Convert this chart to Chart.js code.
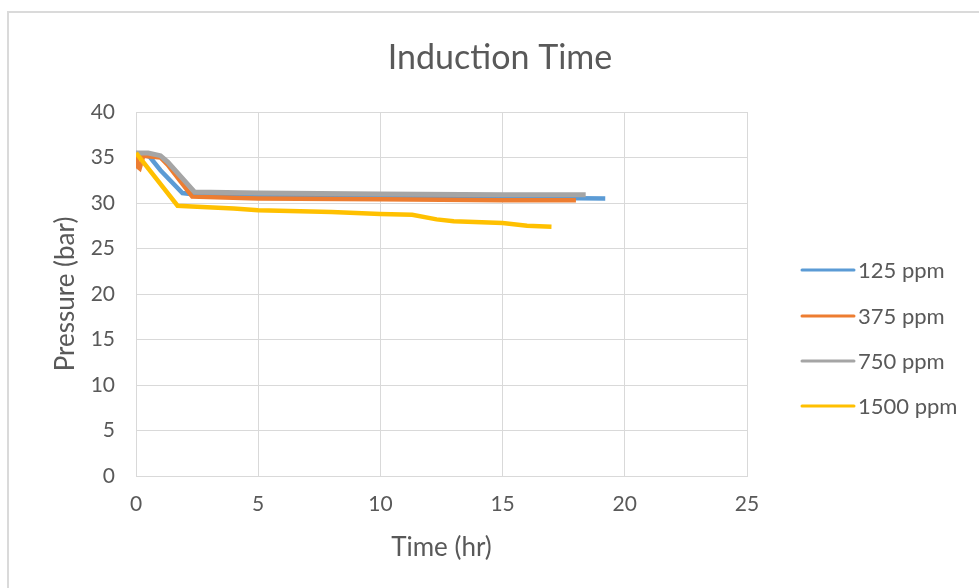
<!DOCTYPE html>
<html>
<head>
<meta charset="utf-8">
<script src="https://cdn.jsdelivr.net/npm/chart.js@4/dist/chart.umd.min.js"></script>
<style>
  html, body { margin: 0; padding: 0; background: #fff; overflow: hidden; }
  #frame { position: absolute; left: 7px; top: 11px; width: 1000px; height: 600px; border: 2px solid #dadada; box-sizing: border-box; }
  #chart { position: absolute; left: 0; top: 0; }
</style>
</head>
<body>
<div id="frame"></div>
<canvas id="chart" width="979" height="588"></canvas>
<script>
'use strict';

// series labels and colours
const SERIES = ['125 ppm', '375 ppm', '750 ppm', '1500 ppm'];
const COLORS = ['#5b9bd5', '#ed7d31', '#a5a5a5', '#ffc000'];

// time (hr) / pressure (bar)
const t125 = [0, 0.55, 1.0, 1.9, 2.5, 5, 10, 15, 19.2];
const p125 = [35.5, 35.1, 33.6, 31.1, 30.9, 30.8, 30.7, 30.6, 30.5];

const t375 = [0, 0.06, 0.15, 0.3, 1.0, 1.3, 2.3, 5, 10, 15, 18.0];
const p375 = [35.5, 34.0, 33.8, 35.2, 35.0, 34.2, 30.7, 30.5, 30.4, 30.3, 30.3];

const t750 = [0, 0.5, 1.0, 1.3, 2.4, 5, 10, 15, 18.4];
const p750 = [35.5, 35.5, 35.2, 34.5, 31.2, 31.1, 31.0, 30.9, 30.9];

const t1500 = [0, 1.7, 2.5, 4, 5, 8, 10, 11.3, 12.3, 13, 15, 16, 17.0];
const p1500 = [35.5, 29.7, 29.6, 29.4, 29.2, 29.0, 28.8, 28.7, 28.2, 28.0, 27.8, 27.5, 27.4];

const X_TICKS = [0, 5, 10, 15, 20, 25];
const Y_TICKS = [0, 5, 10, 15, 20, 25, 30, 35, 40];

const FONT = 'Lato, "Open Sans", sans-serif';
const TXT = '#595959';
const GRID = '#d9d9d9';

const pts = (xs, ys) => xs.map((x, i) => ({ x, y: ys[i] }));
const allData = [pts(t125, p125), pts(t375, p375), pts(t750, p750), pts(t1500, p1500)];

// title + legend drawn at Excel-like spots
const decor = {
  id: 'decor',
  afterDraw(chart) {
    const ctx = chart.ctx;
    ctx.save();
    ctx.fillStyle = TXT;
    ctx.font = `34px ${FONT}`;
    ctx.textAlign = 'center';
    ctx.textBaseline = 'middle';
    ctx.fillText('Induction Time', 500, 58);

    ctx.font = `22px ${FONT}`;
    ctx.textAlign = 'left';
    const rows = [270, 316, 361, 406];
    SERIES.forEach((s, i) => {
      ctx.strokeStyle = COLORS[i];
      ctx.lineWidth = 3;
      ctx.lineCap = 'round';
      ctx.beginPath();
      ctx.moveTo(802, rows[i]);
      ctx.lineTo(854, rows[i]);
      ctx.stroke();
      ctx.fillText(s, 858, rows[i] + 1);
    });
    ctx.restore();
  }
};

new Chart(document.getElementById('chart'), {
  type: 'line',
  data: {
    datasets: SERIES.map((s, i) => ({
      label: s,
      data: allData[i],
      borderColor: COLORS[i],
      backgroundColor: COLORS[i],
      borderWidth: i === 2 ? 5 : 4.5,
      pointRadius: 0,
      tension: 0,
      order: 4 - i
    }))
  },
  options: {
    responsive: false,
    animation: false,
    layout: { padding: { left: 0, top: 112, right: 232, bottom: 0 } },
    plugins: { legend: { display: false }, title: { display: false }, tooltip: { enabled: false } },
    scales: {
      x: {
        type: 'linear', min: 0, max: 25,
        afterBuildTicks: (s) => { s.ticks = X_TICKS.map((v) => ({ value: v })); },
        afterFit: (s) => { s.height = 112; },
        grid: { color: GRID, drawTicks: false },
        border: { color: GRID },
        ticks: { color: TXT, font: { family: FONT, size: 21 }, padding: 16, maxRotation: 0 },
        title: { display: true, text: 'Time (hr)', color: TXT, font: { family: FONT, size: 26 }, padding: { top: 0, bottom: 25 } }
      },
      y: {
        min: 0, max: 40,
        afterBuildTicks: (s) => { s.ticks = Y_TICKS.map((v) => ({ value: v })); },
        afterFit: (s) => { s.width = 136; },
        grid: { color: GRID, drawTicks: false },
        border: { color: GRID },
        ticks: { color: TXT, font: { family: FONT, size: 21 }, padding: 21 },
        title: { display: true, text: 'Pressure (bar)', color: TXT, font: { family: FONT, size: 26 }, padding: { top: 50, bottom: 0 } }
      }
    }
  },
  plugins: [decor]
});
</script>
</body>
</html>
